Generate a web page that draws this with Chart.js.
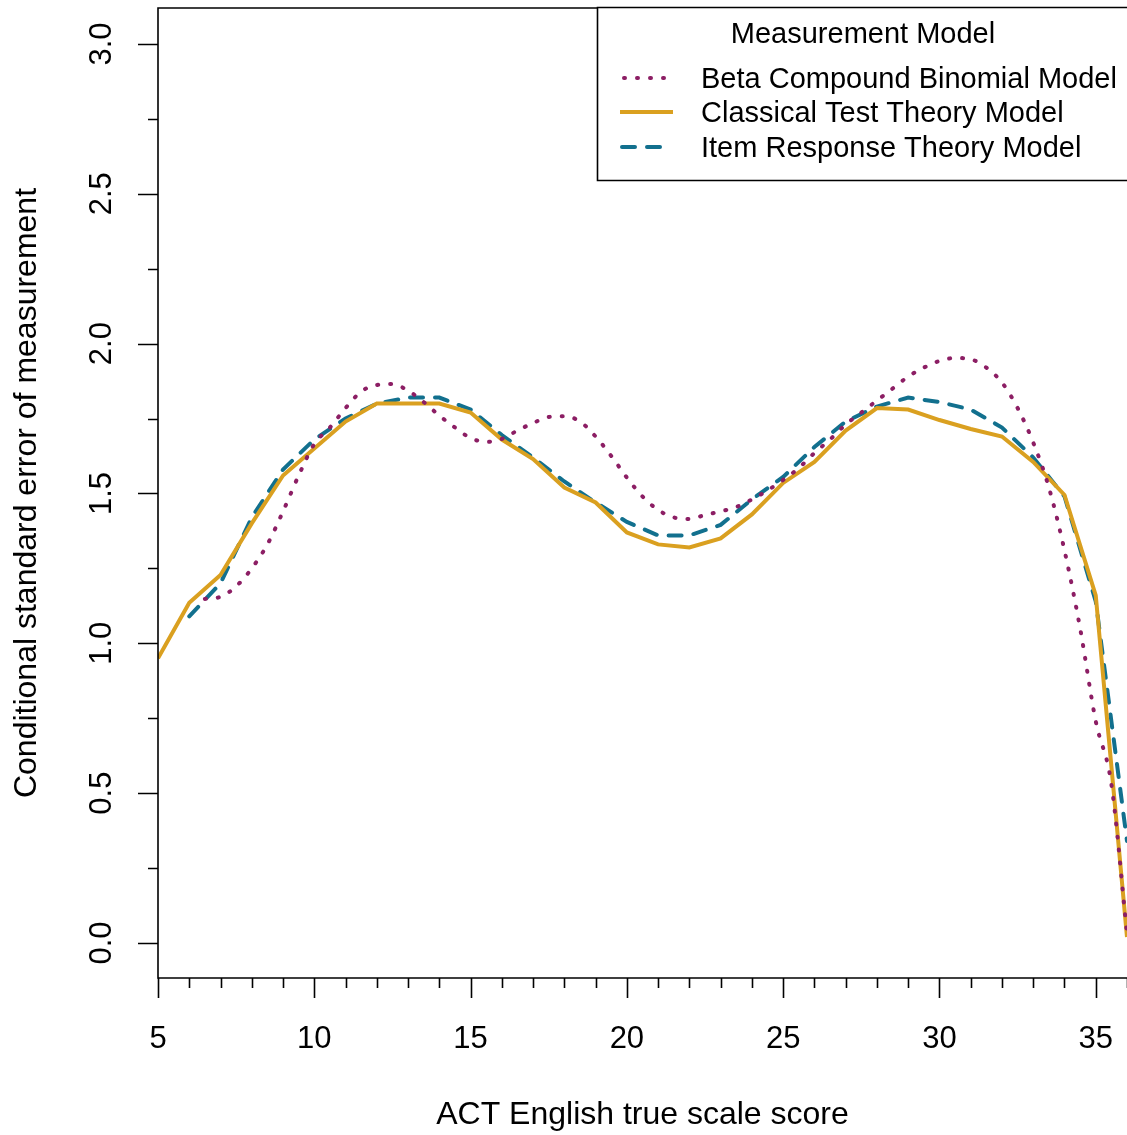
<!DOCTYPE html>
<html>
<head>
<meta charset="utf-8">
<title>Conditional SEM by measurement model</title>
<script src="https://cdn.jsdelivr.net/npm/chart.js@4.4.1/dist/chart.umd.min.js"></script>
<style>
  html, body { margin: 0; padding: 0; background: #fff; }
  #wrap { width: 1127px; height: 1135px; }
</style>
</head>
<body>
<div id="wrap"><canvas id="myChart" width="1127" height="1135"></canvas></div>
<script>
// Data
const cttScores = [5, 6, 7, 8, 9, 10, 11, 12, 13, 14, 15, 16, 17, 18, 19, 20,
  21, 22, 23, 24, 25, 26, 27, 28, 29, 30, 31, 32, 33, 34, 35, 36];
const cttValues = [0.95, 1.135, 1.228, 1.40, 1.56, 1.65, 1.74, 1.80, 1.80, 1.80, 1.77, 1.68,
  1.615, 1.52, 1.47, 1.37, 1.33, 1.32, 1.35, 1.43, 1.535, 1.605, 1.71, 1.785,
  1.78, 1.745, 1.715, 1.69, 1.605, 1.495, 1.16, 0.02];

const irtScores = [6, 7, 8, 9, 10, 11, 12, 13, 14, 15, 16, 17, 18, 19, 20,
  21, 22, 23, 24, 25, 26, 27, 28, 29, 30, 31, 32, 33, 34, 35, 36];
const irtValues = [1.09, 1.20, 1.42, 1.58, 1.68, 1.75, 1.80, 1.82, 1.82, 1.78, 1.695, 1.62,
  1.54, 1.47, 1.405, 1.36, 1.36, 1.395, 1.48, 1.555, 1.655, 1.74, 1.79, 1.82,
  1.805, 1.78, 1.72, 1.62, 1.49, 1.14, 0.34];

const bcbScores = [6.5, 7, 7.5, 8, 8.5, 9, 9.5, 10, 10.5, 11, 11.5, 12, 12.5, 13, 13.5,
  14, 14.5, 15, 15.5, 16, 16.5, 17, 17.5, 18, 18.5, 19, 19.5, 20, 20.5, 21, 21.5,
  22, 22.5, 23, 23.5, 24, 24.5, 25, 25.5, 26, 26.5, 27, 27.5, 28, 28.5, 29, 29.5,
  30, 30.5, 31, 31.5, 32, 32.5, 33, 33.5, 34, 34.5, 35, 35.5, 36];
const bcbValues = [1.148, 1.155, 1.19, 1.25, 1.33, 1.44, 1.56, 1.665, 1.72, 1.785,
  1.84, 1.862, 1.865, 1.843, 1.805, 1.76, 1.72, 1.685, 1.672, 1.682,
  1.71, 1.735, 1.755, 1.758, 1.74, 1.69, 1.625, 1.553, 1.49, 1.445,
  1.42, 1.415, 1.428, 1.44, 1.455, 1.48, 1.51, 1.545, 1.585, 1.635,
  1.68, 1.73, 1.77, 1.81, 1.85, 1.89, 1.92, 1.942, 1.952, 1.948,
  1.92, 1.87, 1.785, 1.67, 1.52, 1.31, 1.05, 0.74, 0.53, 0.03];

const xTicks = [5, 10, 15, 20, 25, 30, 35];
const yTicks = [0.0, 0.5, 1.0, 1.5, 2.0, 2.5, 3.0];

const legendTitle = 'Measurement Model';
const xTitle = 'ACT English true scale score';
const yTitle = 'Conditional standard error of measurement';

const FONT = '"Liberation Sans", Arial, Helvetica, sans-serif';
const PURPLE = 'rgb(140,30,100)';
const GOLD = 'rgb(218,160,32)';
const BLUE = 'rgb(18,112,142)';

function pairs(xs, ys) {
    return xs.map((x, i) => ({ x: x, y: ys[i] }));
}

// R style box, ticks, labels and legend drawn on the library's scales
const baseAxes = {
    id: 'baseAxes',
    afterDraw(chart) {
        const c = chart.ctx;
        const area = chart.chartArea;
        const xs = chart.scales.x;
        const ys = chart.scales.y;
        c.save();
        c.strokeStyle = '#000';
        c.fillStyle = '#000';
        c.lineWidth = 1.6;

        // plot box (right side runs off the picture)
        c.beginPath();
        c.moveTo(area.right + 5, area.top);
        c.lineTo(area.left, area.top);
        c.lineTo(area.left, area.bottom);
        c.lineTo(area.right + 5, area.bottom);
        c.stroke();

        // x ticks
        c.beginPath();
        for (let v = 5; v <= 36; v++) {
            const px = Math.round(xs.getPixelForValue(v)) + 0.5;
            const len = v % 5 === 0 ? 20 : 10;
            c.moveTo(px, area.bottom);
            c.lineTo(px, area.bottom + len);
        }
        // y ticks
        for (let v = 0; v <= 3.001; v += 0.25) {
            const py = Math.round(ys.getPixelForValue(v)) + 0.5;
            const len = Math.abs(v * 2 - Math.round(v * 2)) < 1e-6 ? 20 : 10;
            c.moveTo(area.left, py);
            c.lineTo(area.left - len, py);
        }
        c.stroke();

        c.font = '31px ' + FONT;
        c.textAlign = 'center';
        c.textBaseline = 'middle';
        xTicks.forEach(v => c.fillText(String(v), xs.getPixelForValue(v), 1039));
        yTicks.forEach(v => {
            c.save();
            c.translate(102, ys.getPixelForValue(v));
            c.rotate(-Math.PI / 2);
            c.fillText(v.toFixed(1), 0, 0);
            c.restore();
        });

        // axis titles
        c.font = '32px ' + FONT;
        c.fillText(xTitle, (area.left + area.right) / 2, 1115);
        c.save();
        c.translate(27, (area.top + area.bottom) / 2);
        c.rotate(-Math.PI / 2);
        c.fillText(yTitle, 0, 0);
        c.restore();

        // legend
        c.fillStyle = '#fff';
        c.fillRect(598, 8, chart.width, 172);
        c.lineWidth = 1.6;
        c.strokeStyle = '#000';
        c.beginPath();
        c.moveTo(chart.width + 5, 7.5);
        c.lineTo(597.5, 7.5);
        c.lineTo(597.5, 180.5);
        c.lineTo(chart.width + 5, 180.5);
        c.stroke();

        c.fillStyle = '#000';
        c.font = '29px ' + FONT;
        c.fillText(legendTitle, 863, 35);
        const rows = [80, 114, 149];
        chart.data.datasets.forEach((ds, i) => {
            const y = rows[i] - 2;
            c.save();
            c.strokeStyle = ds.borderColor;
            c.lineWidth = ds.borderWidth;
            c.lineCap = ds.borderCapStyle || 'butt';
            c.setLineDash(ds.borderDash || []);
            c.beginPath();
            c.moveTo(ds.legendStart, y);
            c.lineTo(ds.legendEnd, y);
            c.stroke();
            c.restore();
            c.textAlign = 'left';
            c.fillText(ds.label, 701, rows[i]);
        });
        c.restore();
    }
};

const ctx = document.getElementById('myChart').getContext('2d');
const myChart = new Chart(ctx, {
    type: 'line',
    data: {
        datasets: [{
            label: 'Beta Compound Binomial Model',
            data: pairs(bcbScores, bcbValues),
            borderColor: PURPLE,
            borderWidth: 4,
            borderDash: [1, 12],
            borderCapStyle: 'round',
            cubicInterpolationMode: 'monotone',
            pointRadius: 0,
            fill: false,
            legendStart: 624,
            legendEnd: 673
        }, {
            label: 'Classical Test Theory Model',
            data: pairs(cttScores, cttValues),
            borderColor: GOLD,
            borderWidth: 4,
            tension: 0,
            pointRadius: 0,
            fill: false,
            legendStart: 620,
            legendEnd: 673
        }, {
            label: 'Item Response Theory Model',
            data: pairs(irtScores, irtValues),
            borderColor: BLUE,
            borderWidth: 4,
            borderDash: [13, 12],
            borderCapStyle: 'round',
            tension: 0,
            pointRadius: 0,
            fill: false,
            legendStart: 622,
            legendEnd: 664
        }]
    },
    options: {
        responsive: false,
        animation: false,
        devicePixelRatio: 1,
        layout: { padding: { left: 158, top: 8, right: 0, bottom: 157 } },
        plugins: {
            legend: { display: false },
            tooltip: { enabled: false }
        },
        scales: {
            x: { type: 'linear', min: 5, max: 36, display: false },
            y: { type: 'linear', min: -0.117, max: 3.12, display: false }
        }
    },
    plugins: [baseAxes]
});
</script>
</body>
</html>
